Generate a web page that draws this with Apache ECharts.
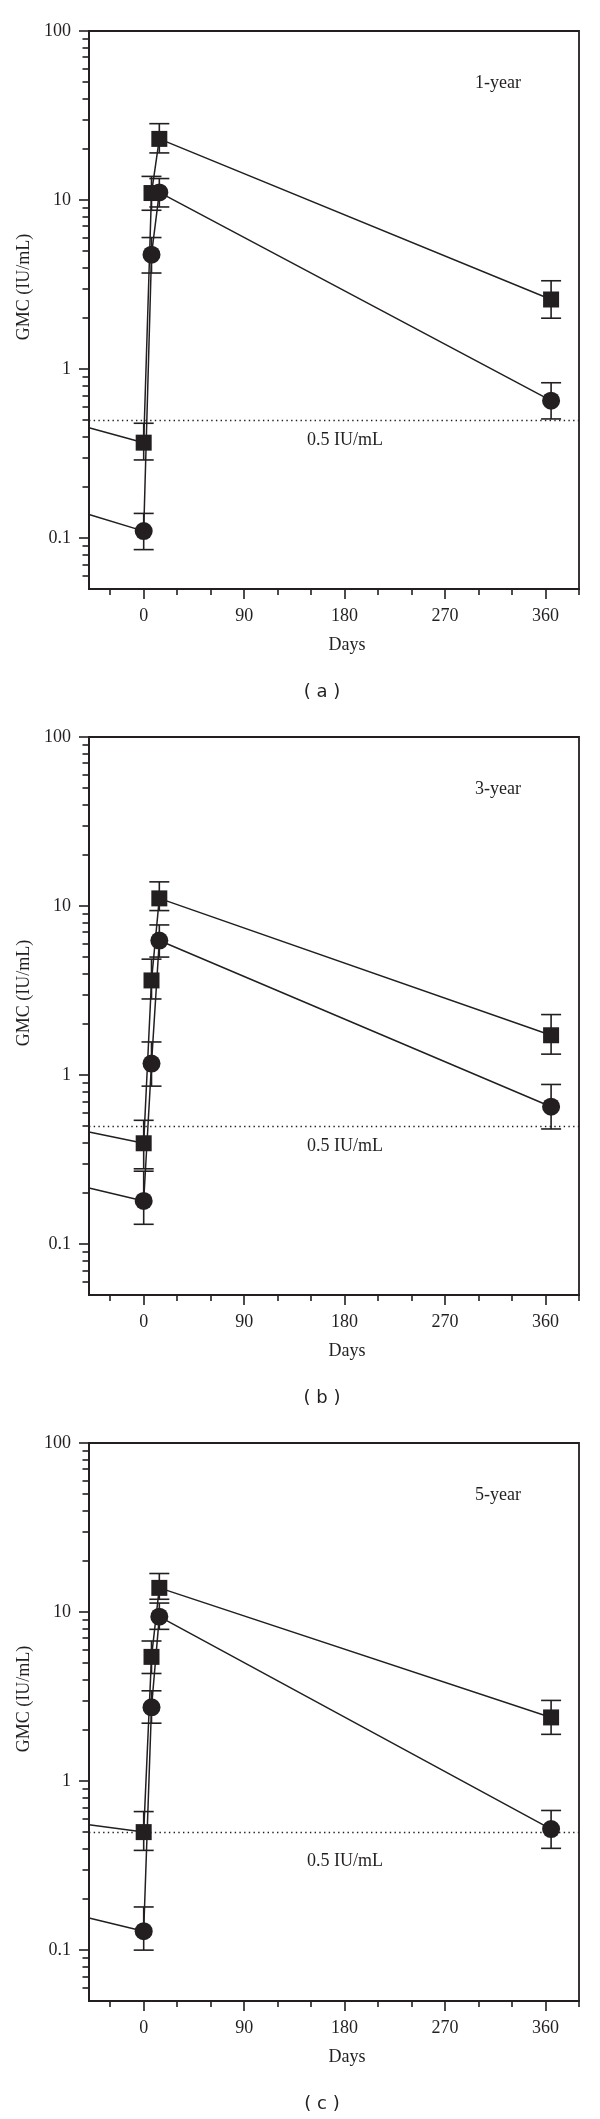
<!DOCTYPE html>
<html><head><meta charset="utf-8">
<script src="https://cdn.jsdelivr.net/npm/echarts@6/dist/echarts.min.js"></script>
<style>html,body{margin:0;padding:0;background:#fff}#c{width:600px;height:2119px}</style>
</head><body><div id="c"></div>
<script>
// ---------- data ----------
const days = [0, 7, 14, 365];
const leadDay = -49;
const xMin = -49, xMax = 390;
const yMin = 0.05, yMax = 100;
const xMajorTicks = [0, 90, 180, 270, 360];
const xMinorTicks = [-30, 30, 60, 120, 150, 210, 240, 300, 330, 390];
const yMajorTicks = [0.1, 1, 10, 100];
const yTickLabels = ['0.1', '1', '10', '100'];
const yMinorTicks = [0.06,0.07,0.08,0.09,0.2,0.3,0.4,0.5,0.6,0.7,0.8,0.9,2,3,4,5,6,7,8,9,20,30,40,50,60,70,80,90];
const panelTitles = ['1-year', '3-year', '5-year'];
const panelLetters = ['( a )', '( b )', '( c )'];
const thresholdValue = 0.5;
const thresholdLabel = '0.5 IU/mL';
const xName = 'Days';
const yName = 'GMC (IU/mL)';

// panel (a) 1-year
const sqA = [0.367, 11.0, 23.0, 2.58];
const sqALow = [0.29, 8.7, 19.0, 2.0];
const sqAHigh = [0.478, 13.8, 28.3, 3.33];
const sqALead = 0.45;
const ciA = [0.110, 4.75, 11.1, 0.65];
const ciALow = [0.0855, 3.7, 9.1, 0.507];
const ciAHigh = [0.140, 6.0, 13.4, 0.83];
const ciALead = 0.138;

// panel (b) 3-year
const sqB = [0.395, 3.63, 11.1, 1.72];
const sqBLow = [0.279, 2.82, 9.4, 1.33];
const sqBHigh = [0.54, 4.85, 13.9, 2.28];
const sqBLead = 0.46;
const ciB = [0.18, 1.17, 6.25, 0.65];
const ciBLow = [0.131, 0.86, 4.99, 0.48];
const ciBHigh = [0.27, 1.57, 7.73, 0.88];
const ciBLead = 0.215;

// panel (c) 5-year
const sqC = [0.499, 5.43, 13.9, 2.38];
const sqCLow = [0.389, 4.33, 11.9, 1.89];
const sqCHigh = [0.66, 6.74, 16.9, 3.0];
const sqCLead = 0.551;
const ciC = [0.1294, 2.73, 9.39, 0.52];
const ciCLow = [0.1, 2.2, 7.9, 0.40];
const ciCHigh = [0.18, 3.42, 11.3, 0.67];
const ciCLead = 0.155;

// ---------- chart ----------
const INK = '#231f20';
const SERIF = '"Liberation Serif", "DejaVu Serif", serif';
const panels = [
  {sq: sqA, sqLo: sqALow, sqHi: sqAHigh, sqLead: sqALead, ci: ciA, ciLo: ciALow, ciHi: ciAHigh, ciLead: ciALead},
  {sq: sqB, sqLo: sqBLow, sqHi: sqBHigh, sqLead: sqBLead, ci: ciB, ciLo: ciBLow, ciHi: ciBHigh, ciLead: ciBLead},
  {sq: sqC, sqLo: sqCLow, sqHi: sqCHigh, sqLead: sqCLead, ci: ciC, ciLo: ciCLow, ciHi: ciCHigh, ciLead: ciCLead}
];
const PANEL_STEP = 706, GRID_TOP = 31, GRID_H = 558, GRID_LEFT = 89, GRID_W = 490;
const labelDrop = [19, 19, 28];

function errRender(params, api) {
  const x = api.value(0), lo = api.value(1), hi = api.value(2);
  const pLo = api.coord([x, lo]), pHi = api.coord([x, hi]);
  const w = 10;
  const style = {stroke: INK, lineWidth: 1.6};
  return {type: 'group', children: [
    {type: 'line', shape: {x1: pLo[0], y1: pLo[1], x2: pHi[0], y2: pHi[1]}, style: style},
    {type: 'line', shape: {x1: pLo[0] - w, y1: pLo[1], x2: pLo[0] + w, y2: pLo[1]}, style: style},
    {type: 'line', shape: {x1: pHi[0] - w, y1: pHi[1], x2: pHi[0] + w, y2: pHi[1]}, style: style}
  ]};
}

const grid = [], xAxis = [], yAxis = [], series = [], graphic = [];
panels.forEach((p, k) => {
  const top = GRID_TOP + PANEL_STEP * k;
  grid.push({left: GRID_LEFT, top: top, width: GRID_W, height: GRID_H, show: true,
    borderColor: INK, borderWidth: 1.8, backgroundColor: 'transparent'});
  const xi = xAxis.length, yi = yAxis.length;
  xAxis.push({type: 'value', gridIndex: k, position: 'bottom', min: xMin, max: xMax,
    name: xName, nameLocation: 'middle', nameGap: 47,
    nameTextStyle: {fontFamily: SERIF, fontSize: 18, color: INK, padding: [0, 0, 0, 26]},
    axisLine: {show: true, onZero: false, lineStyle: {color: INK, width: 1.8}},
    axisTick: {show: true, inside: false, length: 10, customValues: xMajorTicks, lineStyle: {color: INK, width: 1.6}},
    axisLabel: {show: true, customValues: xMajorTicks, margin: 18, fontFamily: SERIF, fontSize: 18, color: INK},
    splitLine: {show: false}});
  xAxis.push({type: 'value', gridIndex: k, position: 'bottom', min: xMin, max: xMax,
    axisLine: {show: false, onZero: false},
    axisTick: {show: true, inside: false, length: 6, customValues: xMinorTicks, lineStyle: {color: INK, width: 1.6}},
    axisLabel: {show: false}, splitLine: {show: false}});
  yAxis.push({type: 'log', logBase: 10, gridIndex: k, position: 'left', min: yMin, max: yMax,
    name: yName, nameLocation: 'middle', nameGap: 47,
    nameTextStyle: {fontFamily: SERIF, fontSize: 18, color: INK, padding: [0, 0, 0, 46]},
    axisLine: {show: true, onZero: false, lineStyle: {color: INK, width: 1.8}},
    axisTick: {show: true, inside: false, length: 10, customValues: yMajorTicks, lineStyle: {color: INK, width: 1.6}},
    axisLabel: {show: true, customValues: yMajorTicks, margin: 18, fontFamily: SERIF, fontSize: 18, color: INK,
      formatter: function (v) {
        let best = 0, bd = Infinity;
        yMajorTicks.forEach((t, i) => { const d = Math.abs(Math.log10(t) - Math.log10(v)); if (d < bd) { bd = d; best = i; } });
        return yTickLabels[best];
      }},
    splitLine: {show: false}});
  yAxis.push({type: 'log', logBase: 10, gridIndex: k, position: 'left', min: yMin, max: yMax,
    axisLine: {show: false, onZero: false},
    axisTick: {show: true, inside: false, length: 6.5, customValues: yMinorTicks, lineStyle: {color: INK, width: 1.6}},
    axisLabel: {show: false}, splitLine: {show: false}});

  const lineData = (lead, vals) => [{value: [leadDay, lead], symbol: 'none'}].concat(vals.map((v, i) => [days[i], v]));
  const errData = (lo, hi) => days.map((d, i) => [d, lo[i], hi[i]]);

  series.push({type: 'custom', xAxisIndex: xi, yAxisIndex: yi, renderItem: errRender,
    data: errData(p.sqLo, p.sqHi), encode: {x: 0, y: [1, 2]}, z: 2, silent: true, clip: false});
  series.push({type: 'custom', xAxisIndex: xi, yAxisIndex: yi, renderItem: errRender,
    data: errData(p.ciLo, p.ciHi), encode: {x: 0, y: [1, 2]}, z: 2, silent: true, clip: false});
  series.push({type: 'line', xAxisIndex: xi, yAxisIndex: yi, data: lineData(p.sqLead, p.sq),
    symbol: 'rect', symbolSize: 16, showSymbol: true,
    itemStyle: {color: INK}, lineStyle: {color: INK, width: 1.5}, z: 3,
    markLine: {silent: true, symbol: 'none', data: [{yAxis: thresholdValue}],
      lineStyle: {color: INK, width: 1.3, type: [1.4, 3.3]},
      label: {show: true, position: 'insideMiddleBottom', formatter: thresholdLabel,
        fontFamily: SERIF, fontSize: 18, color: INK, offset: [11, labelDrop[k] - 13]}}});
  series.push({type: 'line', xAxisIndex: xi, yAxisIndex: yi, data: lineData(p.ciLead, p.ci),
    symbol: 'circle', symbolSize: 18, showSymbol: true,
    itemStyle: {color: INK}, lineStyle: {color: INK, width: 1.5}, z: 3});

  graphic.push({type: 'text', x: 498, y: top + 52, style: {text: panelTitles[k], align: 'center', verticalAlign: 'middle',
    font: '18px ' + SERIF, fill: INK}});
  graphic.push({type: 'text', x: 322, y: top + 661, style: {text: panelLetters[k], align: 'center', verticalAlign: 'middle',
    font: '18px "DejaVu Sans", sans-serif', fill: INK}});
});

const chart = echarts.init(document.getElementById('c'), null, {renderer: 'canvas'});
chart.setOption({animation: false, backgroundColor: '#fff', grid, xAxis, yAxis, series, graphic});
</script></body></html>
